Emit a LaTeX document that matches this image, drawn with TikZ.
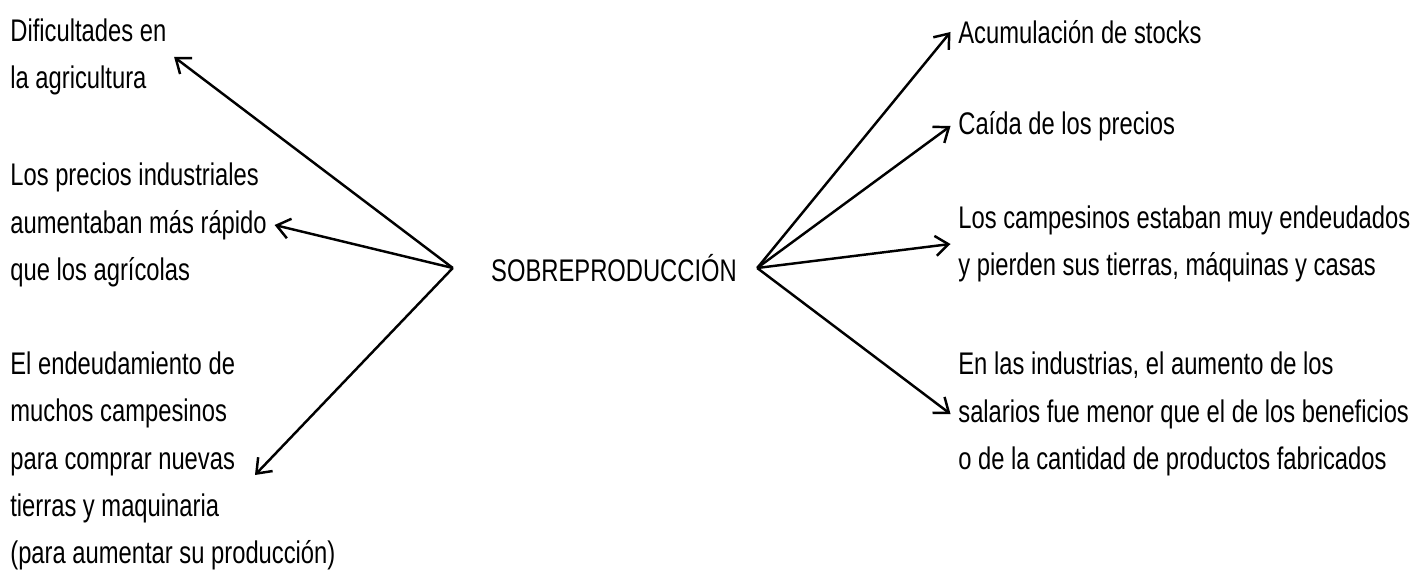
\documentclass[tikz,border=0pt]{standalone}
\usepackage{fontspec}
\setmainfont[FakeStretch=0.76]{Liberation Sans}
\usetikzlibrary{arrows.meta}

\tikzset{
  idea/.style={align=left,inner sep=0.15cm,font=\fontsize{17.8}{27}\selectfont},
  flecha/.style={->,line width=1.4pt,>={Straight Barb[length=2.6mm,width=4mm]}}
}

\begin{document}
\begin{tikzpicture}
  \useasboundingbox (0,0) rectangle (28.38,11.4);

  % Centro
  \node[idea,inner xsep=0.4cm] (sobre) at (12.28,6.04) {SOBREPRODUCCIÓN};
  \coordinate (hubL) at ([xshift=-0.36cm]sobre.west);

  % Causas
  \node[idea,anchor=west] (agri) at (0.05,10.26) {Dificultades en\\la agricultura};
  \node[idea,anchor=west] (precios) at (0.05,6.9) {Los precios industriales\\aumentaban más rápido\\que los agrícolas};
  \node[idea,anchor=west] (deuda) at (0.05,2.18) {El endeudamiento de\\muchos campesinos\\para comprar nuevas\\tierras y maquinaria\\(para aumentar su producción)};
  \coordinate (deudaTip) at (5.1,1.9);

  % Consecuencias
  \node[idea,anchor=west] (stocks) at (19.01,10.76) {Acumulación de stocks};
  \node[idea,anchor=west] (caida) at (19.01,8.88) {Caída de los precios};
  \node[idea,anchor=west] (tierras) at (19.01,6.52) {Los campesinos estaban muy endeudados\\y pierden sus tierras, máquinas y casas};
  \node[idea,anchor=west] (salarios) at (19.01,3.12) {En las industrias, el aumento de los\\salarios fue menor que el de los beneficios\\o de la cantidad de productos fabricados};

\draw[flecha] (hubL) to (agri.east);
\draw[flecha] (hubL) to (precios.east);
\draw[flecha] (hubL) to (deudaTip);

\draw[flecha] (sobre.east) to (stocks.west);
\draw[flecha] (sobre.east) to (caida.west);
\draw[flecha] (sobre.east) to (tierras.west);
\draw[flecha] (sobre.east) to (salarios.west);

\end{tikzpicture}
\end{document}
